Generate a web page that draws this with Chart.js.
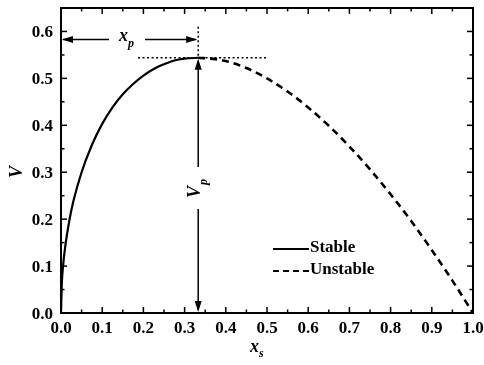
<!DOCTYPE html>
<html><head><meta charset="utf-8">
<script src="https://cdn.jsdelivr.net/npm/chart.js@4/dist/chart.umd.min.js"></script>
<style>html,body{margin:0;padding:0;background:#fff}#w{width:484px;height:365px}</style>
</head><body><div id="w"><canvas id="c" width="484" height="365"></canvas></div>
<script>
// Data
const stableX = [0, 0.002, 0.005, 0.01, 0.02, 0.03, 0.05, 0.075, 0.1, 0.125, 0.15, 0.175, 0.2, 0.225, 0.25, 0.275, 0.3, 0.333];
const stableV = [0, 0.063, 0.100, 0.140, 0.196, 0.238, 0.300, 0.358, 0.403, 0.438, 0.466, 0.488, 0.506, 0.520, 0.530, 0.538, 0.542, 0.544];
const unstableX = [0.333, 0.375, 0.4, 0.45, 0.5, 0.55, 0.6, 0.65, 0.7, 0.75, 0.8, 0.85, 0.9, 0.95, 1.0];
const unstableV = [0.544, 0.541, 0.537, 0.522, 0.500, 0.472, 0.438, 0.399, 0.355, 0.306, 0.253, 0.196, 0.134, 0.069, 0];
const xTicks = [0, 0.1, 0.2, 0.3, 0.4, 0.5, 0.6, 0.7, 0.8, 0.9, 1.0];
const yTicks = [0, 0.1, 0.2, 0.3, 0.4, 0.5, 0.6];
const legendLabels = ["Stable", "Unstable"];
const peakX = 0.333, peakV = 0.544, xpArrowV = 0.583;

const SERIF = '"Liberation Serif", "Times New Roman", serif';

const overlay = {
  id: 'overlay',
  afterDraw(chart) {
    const ctx = chart.ctx, a = chart.chartArea;
    const xs = chart.scales.x, ys = chart.scales.y;
    ctx.save();
    ctx.strokeStyle = '#000'; ctx.fillStyle = '#000';
    // frame
    ctx.lineWidth = 2;
    ctx.strokeRect(a.left, a.top, a.right - a.left, a.bottom - a.top);
    // ticks
    ctx.lineWidth = 1.5;
    for (let i = 0; i <= 20; i++) {
      const v = i * 0.05; const px = xs.getPixelForValue(v);
      const L = i % 2 === 0 ? 6 : 3.5;
      ctx.beginPath(); ctx.moveTo(px, a.bottom); ctx.lineTo(px, a.bottom - L); ctx.stroke();
      ctx.beginPath(); ctx.moveTo(px, a.top); ctx.lineTo(px, a.top + L); ctx.stroke();
    }
    for (let i = 0; i <= 13; i++) {
      const v = i * 0.05; const py = ys.getPixelForValue(v);
      const L = i % 2 === 0 ? 6 : 3.5;
      ctx.beginPath(); ctx.moveTo(a.left, py); ctx.lineTo(a.left + L, py); ctx.stroke();
      ctx.beginPath(); ctx.moveTo(a.right, py); ctx.lineTo(a.right - L, py); ctx.stroke();
    }
    // tick labels
    ctx.font = 'bold 17px ' + SERIF;
    ctx.textAlign = 'center'; ctx.textBaseline = 'alphabetic';
    xTicks.forEach(v => ctx.fillText(v.toFixed(1), xs.getPixelForValue(v), a.bottom + 20));
    ctx.textAlign = 'right';
    yTicks.forEach(v => ctx.fillText(v.toFixed(1), a.left - 8, ys.getPixelForValue(v) + 5.5));
    const pkx = xs.getPixelForValue(peakX), pky = ys.getPixelForValue(peakV);
    // dotted lines
    ctx.lineWidth = 1.5; ctx.setLineDash([2, 2.5]);
    ctx.beginPath(); ctx.moveTo(xs.getPixelForValue(0.187), pky); ctx.lineTo(xs.getPixelForValue(0.5), pky); ctx.stroke();
    ctx.beginPath(); ctx.moveTo(pkx, ys.getPixelForValue(0.61)); ctx.lineTo(pkx, pky); ctx.stroke();
    ctx.setLineDash([]);
    function head(x, y, dx, dy) {
      const len = 11, hw = 3.5;
      const nx = -dy, ny = dx;
      ctx.beginPath();
      ctx.moveTo(x, y);
      ctx.lineTo(x - dx * len + nx * hw, y - dy * len + ny * hw);
      ctx.lineTo(x - dx * len - nx * hw, y - dy * len - ny * hw);
      ctx.closePath(); ctx.fill();
    }
    // xp arrow
    const ay = ys.getPixelForValue(xpArrowV);
    const x0 = xs.getPixelForValue(0);
    ctx.lineWidth = 1.5;
    ctx.beginPath(); ctx.moveTo(x0 + 2, ay); ctx.lineTo(109, ay); ctx.moveTo(145, ay); ctx.lineTo(pkx - 2, ay); ctx.stroke();
    head(x0 + 1, ay, -1, 0); head(pkx - 1, ay, 1, 0);
    ctx.font = 'italic bold 18px ' + SERIF;
    ctx.textBaseline = 'alphabetic'; ctx.textAlign = 'left';
    ctx.fillText('x', 119, ay + 2);
    ctx.font = 'italic bold 12px ' + SERIF;
    ctx.fillText('p', 128, ay + 8);
    // Vp arrow
    const y0 = ys.getPixelForValue(0);
    ctx.beginPath(); ctx.moveTo(pkx, pky + 3); ctx.lineTo(pkx, 167); ctx.moveTo(pkx, 209); ctx.lineTo(pkx, y0 - 3); ctx.stroke();
    head(pkx, pky + 1, 0, -1); head(pkx, y0 - 1, 0, 1);
    ctx.save();
    ctx.translate(pkx, 188); ctx.rotate(-Math.PI / 2);
    ctx.font = 'italic bold 18px ' + SERIF;
    ctx.textBaseline = 'alphabetic'; ctx.textAlign = 'left';
    ctx.fillText('V', -10, 2);
    ctx.font = 'italic bold 12px ' + SERIF;
    ctx.fillText('p', 3, 9);
    ctx.restore();
    // legend
    ctx.lineWidth = 2;
    ctx.beginPath(); ctx.moveTo(273, 249); ctx.lineTo(309, 249); ctx.stroke();
    ctx.setLineDash([6, 4]);
    ctx.beginPath(); ctx.moveTo(273, 271); ctx.lineTo(309, 271); ctx.stroke();
    ctx.setLineDash([]);
    ctx.font = 'bold 17px ' + SERIF;
    ctx.textBaseline = 'middle'; ctx.textAlign = 'left';
    ctx.fillText(legendLabels[0], 310, 248);
    ctx.fillText(legendLabels[1], 310, 270);
    // axis titles
    ctx.font = 'italic bold 18px ' + SERIF;
    ctx.textAlign = 'left'; ctx.textBaseline = 'alphabetic';
    ctx.fillText('x', 250, 352);
    ctx.font = 'italic bold 12px ' + SERIF;
    ctx.fillText('s', 259, 357);
    ctx.save();
    ctx.translate(17, 172); ctx.rotate(-Math.PI / 2);
    ctx.font = 'italic bold 18px ' + SERIF;
    ctx.textAlign = 'center'; ctx.textBaseline = 'middle';
    ctx.fillText('V', 0, 0);
    ctx.restore();
    ctx.restore();
  }
};

new Chart(document.getElementById('c'), {
  type: 'line',
  data: {
    datasets: [
      { label: legendLabels[0], data: stableX.map((x, i) => ({ x, y: stableV[i] })),
        borderColor: '#000', borderWidth: 2.2, pointRadius: 0, cubicInterpolationMode: 'monotone', fill: false },
      { label: legendLabels[1], data: unstableX.map((x, i) => ({ x, y: unstableV[i] })),
        borderColor: '#000', borderWidth: 2.6, borderDash: [7, 5], pointRadius: 0, cubicInterpolationMode: 'monotone', fill: false }
    ]
  },
  options: {
    responsive: false, animation: false, devicePixelRatio: 1,
    layout: { padding: { top: 8, right: 11, left: 0, bottom: 0 } },
    plugins: { legend: { display: false }, tooltip: { enabled: false } },
    scales: {
      x: {
        type: 'linear', min: 0, max: 1,
        afterFit(s) { s.height = 52; },
        ticks: { display: false, stepSize: 0.1 },
        grid: { display: false }, border: { display: false }
      },
      y: {
        min: 0, max: 0.65,
        afterFit(s) { s.width = 61; },
        ticks: { display: false, stepSize: 0.1 },
        grid: { display: false }, border: { display: false }
      }
    }
  },
  plugins: [overlay]
});
</script></body></html>
